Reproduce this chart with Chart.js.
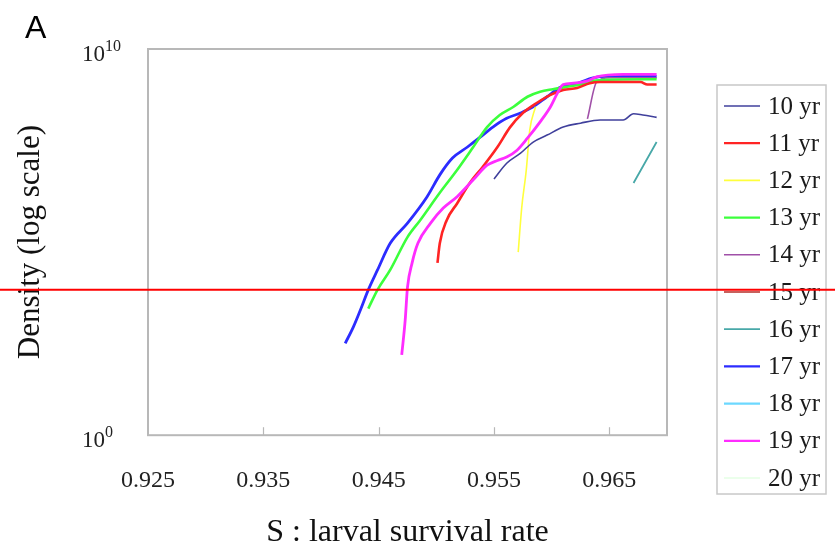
<!DOCTYPE html>
<html>
<head>
<meta charset="utf-8">
<title>Density vs larval survival rate</title>
<script src="https://cdn.jsdelivr.net/npm/chart.js@4.4.0/dist/chart.umd.min.js"></script>
<style>
  html, body { margin: 0; padding: 0; background: #fff; }
  #wrap { width: 835px; height: 551px; position: relative; }
</style>
</head>
<body>
<div id="wrap"><canvas id="grafico"></canvas></div>
<script>
// Legenda e valores (densidade em escala log)
const seriesLabels = ['10 yr', '11 yr', '12 yr', '13 yr', '14 yr', '15 yr', '16 yr', '17 yr', '18 yr', '19 yr', '20 yr'];

const s10 = [0.9550, 0.9561, 0.9573, 0.9584, 0.9596, 0.9610, 0.9625, 0.9642, 0.9662, 0.9671, 0.9679, 0.9691];
const d10 = [4.3e6, 1.1e7, 2.0e7, 3.9e7, 5.9e7, 9.5e7, 1.2e8, 1.45e8, 1.45e8, 2.1e8, 1.95e8, 1.7e8];

const s11 = [0.9501, 0.9503, 0.9509, 0.9518, 0.9529, 0.9540, 0.9553, 0.9564, 0.9575, 0.9587, 0.9599, 0.9610, 0.9622, 0.9633, 0.9642, 0.9677, 0.9683, 0.9691];
const d11 = [2.9e4, 9.3e4, 3.7e5, 1.0e6, 3.4e6, 8.7e6, 2.9e7, 9.5e7, 2.2e8, 4.0e8, 6.5e8, 8.7e8, 9.8e8, 1.3e9, 1.4e9, 1.4e9, 1.2e9, 1.2e9];

const s12 = [0.9571, 0.9574, 0.9578, 0.9581, 0.9586];
const d12 = [5.5e4, 7.6e5, 7.4e6, 7.9e7, 3.2e8];

const s13 = [0.9441, 0.9449, 0.9460, 0.9475, 0.9486, 0.9503, 0.9518, 0.9532, 0.9544, 0.9555, 0.9567, 0.9579, 0.9590, 0.9601, 0.9613, 0.9625, 0.9636, 0.9648, 0.9691];
const d13 = [1.9e3, 5.8e3, 1.9e4, 1.35e5, 3.7e5, 1.9e6, 7.4e6, 2.9e7, 9.5e7, 1.95e8, 3.2e8, 5.8e8, 7.8e8, 9.1e8, 1.05e9, 1.2e9, 1.5e9, 1.6e9, 1.65e9];

const s14 = [0.9631, 0.9639, 0.9650, 0.9691];
const d14 = [1.55e8, 1.4e9, 1.8e9, 1.8e9];

const s15 = [];
const d15 = [];

const s16 = [0.9671, 0.9691];
const d16 = [3.4e6, 3.9e7];

const s17 = [0.9421, 0.9428, 0.9434, 0.9441, 0.9449, 0.9460, 0.9475, 0.9492, 0.9503, 0.9514, 0.9527, 0.9538, 0.9549, 0.9561, 0.9573, 0.9584, 0.9596, 0.9607, 0.9619, 0.9636, 0.9648, 0.9662, 0.9691];
const d17 = [2.4e2, 6.3e2, 1.7e3, 5.8e3, 1.9e4, 9.3e4, 3.1e5, 1.5e6, 5.5e6, 1.5e7, 2.9e7, 5.2e7, 9.5e7, 1.6e8, 2.2e8, 3.2e8, 5.8e8, 1.0e9, 1.2e9, 1.8e9, 1.95e9, 1.95e9, 1.95e9];

const s18 = [];
const d18 = [];

const s19 = [0.9470, 0.9473, 0.9475, 0.9479, 0.9484, 0.9495, 0.9506, 0.9518, 0.9532, 0.9544, 0.9553, 0.9561, 0.9570, 0.9579, 0.9590, 0.9599, 0.9605, 0.9610, 0.9619, 0.9631, 0.9639, 0.9662, 0.9691];
const d19 = [1.2e2, 9.5e2, 6.8e3, 2.9e4, 9.3e4, 3.1e5, 7.6e5, 1.5e6, 4.1e6, 9.8e6, 1.3e7, 1.6e7, 2.4e7, 4.9e7, 1.3e8, 3.2e8, 7.2e8, 1.2e9, 1.3e9, 1.5e9, 1.9e9, 2.2e9, 2.2e9];

const s20 = [];
const d20 = [];

const xTicks = [0.925, 0.935, 0.945, 0.955, 0.965];
const yTicks = [1, 1e10];
const thresholdDensity = 5.8e3;  // linha vermelha horizontal

const xs = [s10, s11, s12, s13, s14, s15, s16, s17, s18, s19, s20];
const ds = [d10, d11, d12, d13, d14, d15, d16, d17, d18, d19, d20];

const cores = ['#40409c', '#ff2424', '#ffff3c', '#3cff3c', '#a050a8', '#c8605c', '#48a8a8', '#2c2cff', '#6cd8ff', '#ff2cff', '#e4ffe4'];
const larguras = [1.6, 2.6, 1.6, 2.6, 1.6, 2.2, 1.8, 2.8, 2.2, 2.8, 1.6];
// 19 yr fica por cima das outras no patamar
const ordem = [0, 0, 0, 0, 0, 0, 0, 0, 0, -1, 0];

const SERIF = '"Liberation Serif", "Times New Roman", serif';

// Moldura, marcas internas do eixo x, rótulos 10^n, legenda, "A" e linha vermelha
const extras = {
  id: 'extras',
  beforeDatasetsDraw(chart) {
    const {ctx, chartArea: a} = chart;
    ctx.save();
    ctx.strokeStyle = '#b8b8b8';
    ctx.lineWidth = 2;
    ctx.strokeRect(a.left, a.top, a.right - a.left, a.bottom - a.top);
    ctx.lineWidth = 1.2;
    const sx = chart.scales.x;
    xTicks.slice(1).forEach(v => {
      const px = Math.round(sx.getPixelForValue(v)) + 0.5;
      ctx.beginPath();
      ctx.moveTo(px, a.bottom);
      ctx.lineTo(px, a.bottom - 8);
      ctx.stroke();
    });
    ctx.restore();
  },
  afterDraw(chart) {
    const {ctx, chartArea: a, width} = chart;
    ctx.save();

    // rótulos do eixo y com expoente
    const sy = chart.scales.y;
    ctx.fillStyle = '#222';
    ctx.textAlign = 'left';
    ctx.textBaseline = 'middle';
    yTicks.forEach(v => {
      const py = sy.getPixelForValue(v) + 6;
      ctx.font = '23px ' + SERIF;
      ctx.fillText('10', 82, py);
      const w = ctx.measureText('10').width;
      ctx.font = '16px ' + SERIF;
      ctx.fillText(String(Math.round(Math.log10(v))), 82 + w, py - 8);
    });

    // legenda
    const legLeft = a.right + 50, legTop = 85, legRight = 826, legBottom = 494;
    ctx.strokeStyle = '#c8c8c8';
    ctx.lineWidth = 1.5;
    ctx.strokeRect(legLeft, legTop, legRight - legLeft, legBottom - legTop);
    ctx.font = '25px ' + SERIF;
    ctx.fillStyle = '#1a1a1a';
    chart.data.datasets.forEach((ds, i) => {
      const y = legTop + 21 + i * 37.2;
      ctx.strokeStyle = ds.borderColor;
      ctx.lineWidth = Math.min(ds.borderWidth, 2.2);
      ctx.beginPath();
      ctx.moveTo(legLeft + 7, y);
      ctx.lineTo(legLeft + 43, y);
      ctx.stroke();
      ctx.fillText(ds.label, legLeft + 51, y + 1);
    });

    // rótulo do painel
    ctx.fillStyle = '#000';
    ctx.textBaseline = 'alphabetic';
    ctx.font = '32px "Liberation Sans", Arial, sans-serif';
    ctx.fillText('A', 25, 38);

    // linha vermelha horizontal
    const py = sy.getPixelForValue(thresholdDensity);
    ctx.strokeStyle = '#ff0000';
    ctx.lineWidth = 2;
    ctx.beginPath();
    ctx.moveTo(0, py);
    ctx.lineTo(width, py);
    ctx.stroke();
    ctx.restore();
  }
};

const ctx = document.getElementById('grafico').getContext('2d');

new Chart(ctx, {
  type: 'line',
  data: {
    datasets: seriesLabels.map((label, i) => ({
      label: label,
      data: xs[i].map((x, j) => ({x: x, y: ds[i][j]})),
      borderColor: cores[i],
      backgroundColor: cores[i],
      borderWidth: larguras[i],
      order: ordem[i],
      pointRadius: 0,
      cubicInterpolationMode: 'monotone',
      fill: false
    }))
  },
  options: {
    responsive: true,
    maintainAspectRatio: false,
    animation: false,
    layout: {
      padding: {left: 0, top: 49, right: 168, bottom: 0}
    },
    scales: {
      x: {
        type: 'linear',
        min: 0.925,
        max: 0.97,
        afterBuildTicks: axis => { axis.ticks = xTicks.map(v => ({value: v})); },
        grid: {display: false, drawTicks: true, tickLength: 26},
        border: {display: false},
        ticks: {
          padding: 5,
          color: '#222',
          font: {family: SERIF, size: 24},
          maxRotation: 0,
          callback: v => v.toFixed(3)
        },
        title: {
          display: true,
          text: 'S : larval survival rate',
          color: '#111',
          font: {family: SERIF, size: 32, lineHeight: 1},
          padding: {top: 17, bottom: 2}
        }
      },
      y: {
        type: 'logarithmic',
        min: 1,
        max: 1e10,
        afterBuildTicks: axis => { axis.ticks = yTicks.map(v => ({value: v})); },
        grid: {display: false, drawTicks: false},
        border: {display: false},
        ticks: {display: false},
        title: {
          display: true,
          text: 'Density (log scale)',
          color: '#111',
          font: {family: SERIF, size: 31, lineHeight: 1},
          padding: {top: 15, bottom: 102}
        }
      }
    },
    plugins: {
      legend: {display: false},
      tooltip: {enabled: false}
    }
  },
  plugins: [extras]
});
</script>
</body>
</html>
